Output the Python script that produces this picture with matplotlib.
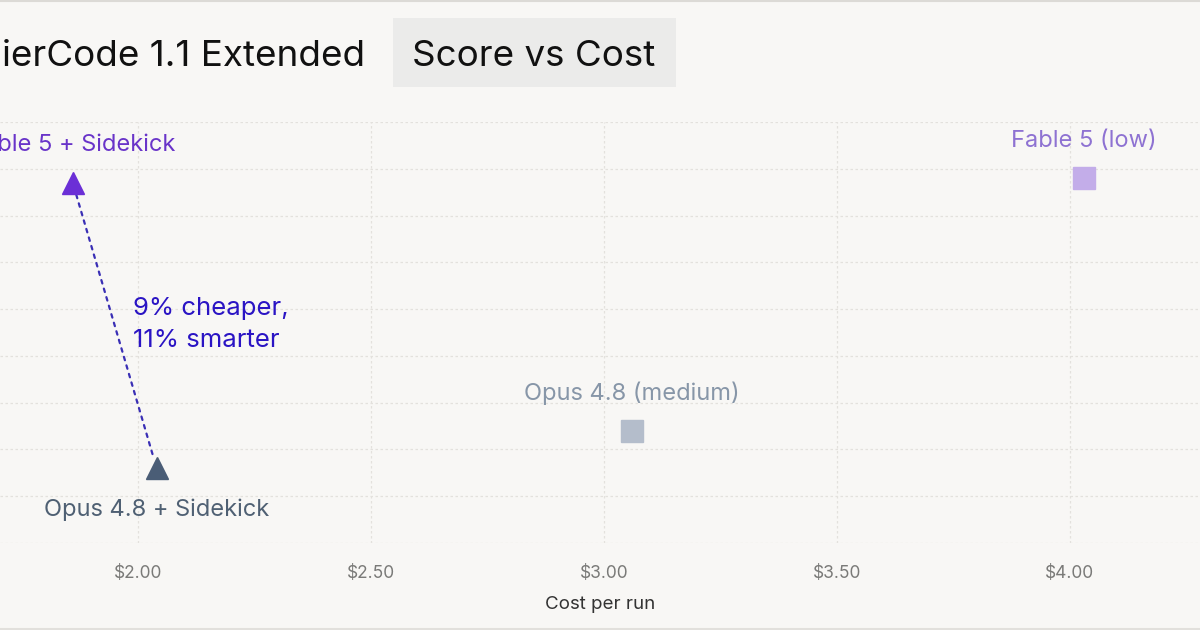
import matplotlib.pyplot as plt
from matplotlib.patches import Rectangle
from matplotlib.lines import Line2D

plt.rcParams['font.family'] = ['Inter', 'DejaVu Sans']

# data
models = ["Fable 5 + Sidekick", "Opus 4.8 + Sidekick", "Opus 4.8 (medium)", "Fable 5 (low)"]
cost = [1.86, 2.04, 3.06, 4.03]
score = [61.7, 55.6, 56.4, 61.8]
x_ticks = [2.0, 2.5, 3.0, 3.5, 4.0]
y_grid = [54, 55, 56, 57, 58, 59, 60, 61, 62, 63]
note = "9% cheaper,\n11% smarter"

marker_style = ['^', '^', 's', 's']
marker_col = ['#6b2fd6', '#4a5d76', '#b4bdcb', '#c3ade9']
label_col = ['#6934c9', '#4f6073', '#8796a8', '#8e72d2']
label_above = [True, False, True, True]
bg = '#f8f7f5'

fig = plt.figure(figsize=(12, 6.3), dpi=100, facecolor=bg)
ax = fig.add_axes([0, 87 / 630, 1, 421 / 630])
ax.set_facecolor(bg)
ax.set_xlim(2 - 138 / 466, 2 + 1062 / 466)
ax.set_ylim(54, 63)

for s in ax.spines.values():
    s.set_visible(False)
ax.set_xticks(x_ticks)
ax.set_xticklabels(['$%.2f' % t for t in x_ticks])
ax.set_yticks(y_grid)
ax.tick_params(axis='x', length=0, pad=16, labelsize=12.5, labelcolor='#7a7a78')
ax.tick_params(axis='y', length=0, labelleft=False)
ax.grid(True, color='#e3e1dd', linestyle=(0, (2, 2)), linewidth=0.9)
ax.set_axisbelow(True)
ax.set_xlabel('Cost per run', fontsize=13.5, color='#333333', labelpad=10)

# dotted connector between the two Sidekick runs
ax.annotate('', xy=(cost[1], score[1]), xytext=(cost[0], score[0]),
            arrowprops=dict(arrowstyle='-', linestyle=(0, (1.6, 2.4)), color='#3a2fb5',
                            lw=1.6, shrinkA=9, shrinkB=9))

for i, m in enumerate(models):
    ms = 16.5 if marker_style[i] == '^' else 15.8
    ax.plot(cost[i], score[i], marker=marker_style[i], color=marker_col[i],
            markersize=ms, linestyle='none', clip_on=False, zorder=3)
    if label_above[i]:
        ax.annotate(m, (cost[i], score[i]), xytext=(0, 27), textcoords='offset points',
                    ha='center', va='center', fontsize=17, color=label_col[i])
    else:
        ax.annotate(m, (cost[i], score[i]), xytext=(0, -30), textcoords='offset points',
                    ha='center', va='center', fontsize=17, color=label_col[i])

ax.text(2 + (133 - 138) / 466, 58.67, note, ha='left', va='center', fontsize=18.5,
        color='#2a14c4', linespacing=1.45)

# header
fig.text(2 / 1200, 1 - 56 / 630, 'ierCode 1.1 Extended', ha='left', va='center',
         fontsize=26.5, color='#111111')
fig.patches.append(Rectangle((393 / 1200, 1 - 87 / 630), 283 / 1200, 69 / 630,
                             transform=fig.transFigure, facecolor='#ebebea',
                             edgecolor='none', zorder=0))
fig.text(534 / 1200, 1 - 56 / 630, 'Score vs Cost', ha='center', va='center',
         fontsize=26.5, color='#111111')

# thin card borders
fig.lines.append(Line2D([0, 1], [1 - 0.5 / 630, 1 - 0.5 / 630], transform=fig.transFigure,
                        color='#dcdad6', lw=1.5))
fig.lines.append(Line2D([0, 1], [1.5 / 630, 1.5 / 630], transform=fig.transFigure,
                        color='#e2e0dc', lw=1.5))

fig.savefig('out.png', dpi=100, facecolor=bg)
